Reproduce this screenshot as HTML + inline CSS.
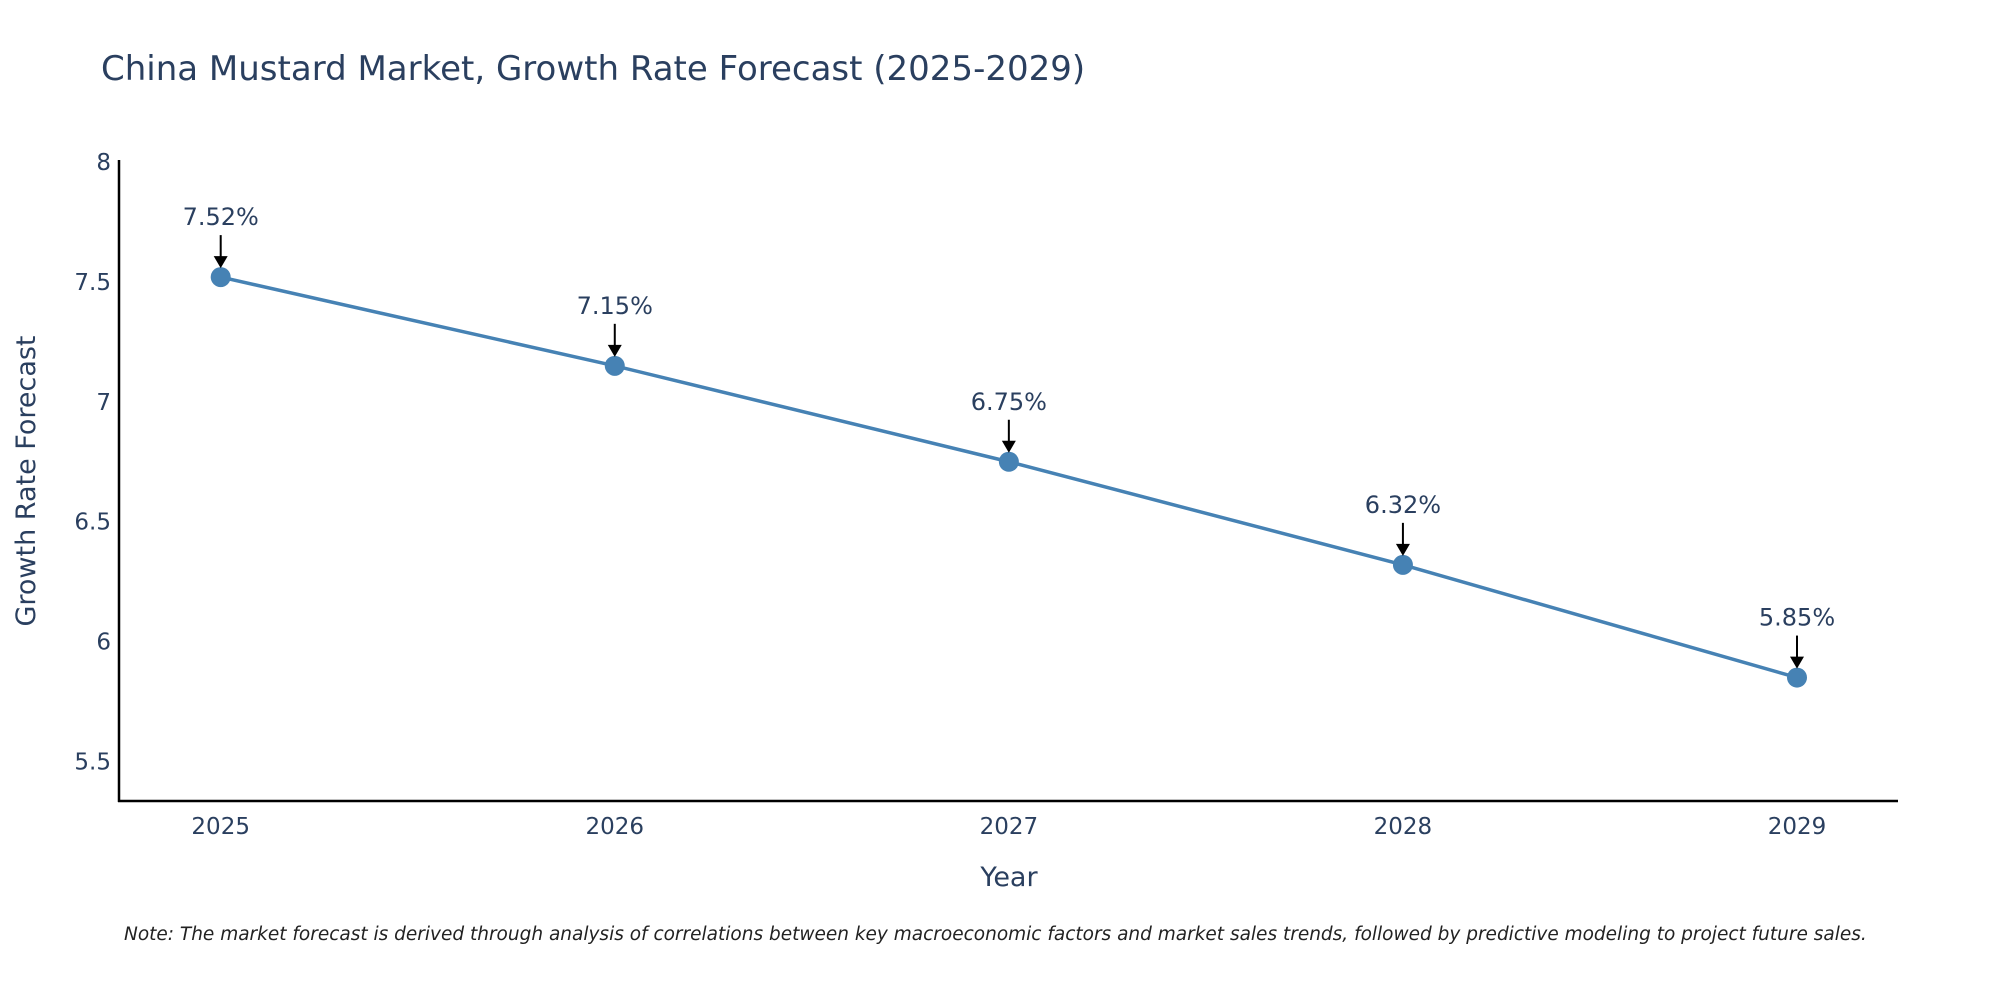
<!DOCTYPE html>
<html><head><meta charset="utf-8"><style>
body{margin:0;background:#fff;}
svg{display:block;font-family:"DejaVu Sans","Liberation Sans",sans-serif;}
</style></head><body>
<svg id="chart" width="2000" height="1000" viewBox="0 0 2000 1000">
<text x="101" y="80" font-size="34" fill="#2a3f5f">China Mustard Market, Growth Rate Forecast (2025-2029)</text>
<g id="yticks"></g>
<g id="xticks"></g>
<line x1="119" y1="160" x2="119" y2="802" stroke="#000" stroke-width="2.5"/>
<line x1="118" y1="801" x2="1898" y2="801" stroke="#000" stroke-width="2.5"/>
<g id="series"></g>
<g id="annos"></g>
<text x="1009" y="886" font-size="27" fill="#2a3f5f" text-anchor="middle">Year</text>
<text transform="translate(35,481) rotate(-90)" font-size="27" fill="#2a3f5f" text-anchor="middle">Growth Rate Forecast</text>
<text x="124" y="940" font-size="18.5" font-style="italic" fill="#222">Note: The market forecast is derived through analysis of correlations between key macroeconomic factors and market sales trends, followed by predictive modeling to project future sales.</text>
</svg>
<script>
const years = ["2025","2026","2027","2028","2029"];
const values = [7.52, 7.15, 6.75, 6.32, 5.85];
const labels = ["7.52%","7.15%","6.75%","6.32%","5.85%"];
const yTicks = [5.5, 6, 6.5, 7, 7.5, 8];
const NS="http://www.w3.org/2000/svg";
function xs(i){return 220.7 + i*(1797-220.7)/(years.length-1);}
function ys(v){return 162 + (8-v)*239.8;}
function mk(tag,attrs,parent){const e=document.createElementNS(NS,tag);for(const k in attrs)e.setAttribute(k,attrs[k]);parent.appendChild(e);return e;}
const yt=document.getElementById('yticks');
yTicks.forEach(t=>{const e=mk('text',{x:111,y:ys(t)+8,'font-size':23,fill:'#2a3f5f','text-anchor':'end'},yt);e.textContent=String(t);

});
const xt=document.getElementById('xticks');
years.forEach((y,i)=>{const e=mk('text',{x:xs(i),y:834,'font-size':23,fill:'#2a3f5f','text-anchor':'middle'},xt);e.textContent=y;

});
const s=document.getElementById('series');
const pl=mk('polyline',{points:values.map((v,i)=>xs(i)+','+ys(v)).join(' '),fill:'none',stroke:'#4682b4','stroke-width':3.5},s);


values.forEach((v,i)=>{const c=mk('circle',{cx:xs(i),cy:ys(v),r:10,fill:'#4682b4'},s);

});
const a=document.getElementById('annos');
values.forEach((v,i)=>{const x=xs(i),y=ys(v);
const l=mk('line',{x1:x,y1:y-42,x2:x,y2:y-20,stroke:'#000','stroke-width':2},a);


const h=mk('polygon',{points:`${x-7},${y-21} ${x+7},${y-21} ${x},${y-9}`,fill:'#000'},a);


const t=mk('text',{x:x,y:y-52,'font-size':24,fill:'#2a3f5f','text-anchor':'middle'},a);t.textContent=labels[i];

});
</script>
</body></html>
